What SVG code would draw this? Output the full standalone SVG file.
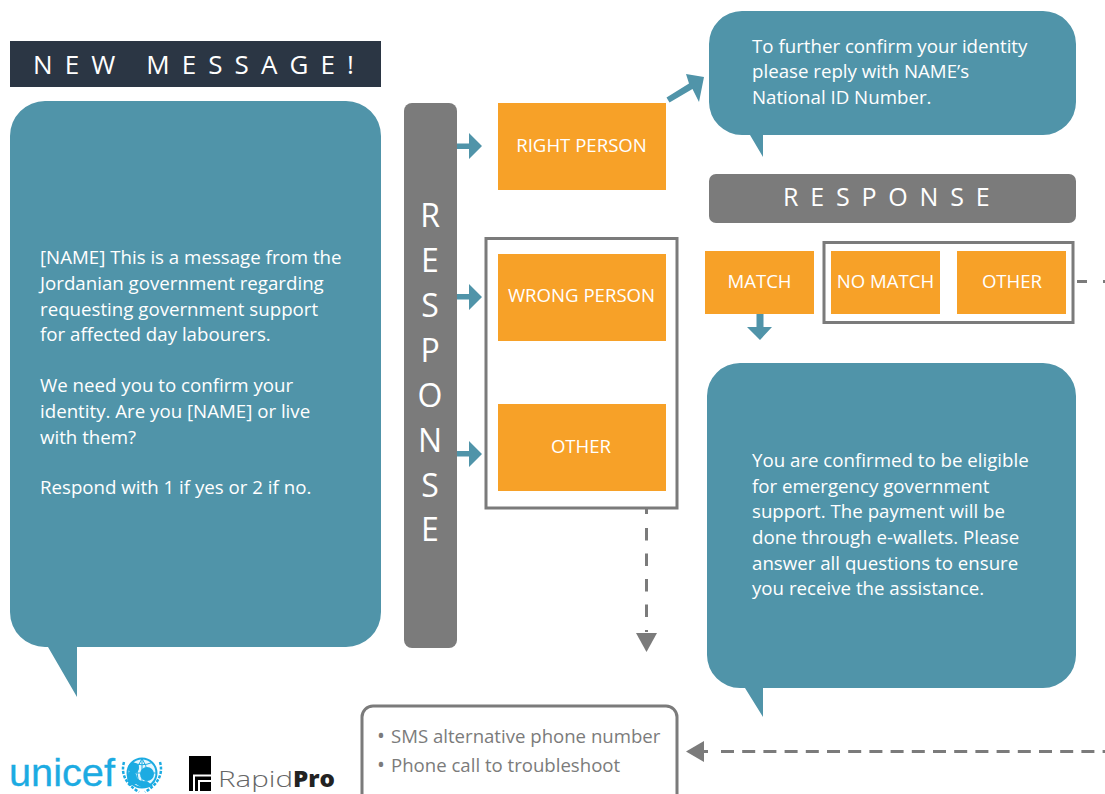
<svg xmlns="http://www.w3.org/2000/svg" width="1105" height="794" viewBox="0 0 1105 794">
<style>
text{font-family:"Open Sans","Noto Sans","Liberation Sans",sans-serif}
.b{fill:#5094a9}
.o{fill:#f7a128}
.t{fill:#fff;font-size:18.7px}
.c{fill:#fff;font-size:18.6px;text-anchor:middle}
.r{fill:#fff;font-size:32px;text-anchor:middle}
.box{fill:none;stroke:#7b7b7b;stroke-width:3}
.d{fill:none;stroke:#7b7b7b;stroke-width:3}
.ga{fill:#7b7b7b}
.ba{fill:#5094a9}
.s{fill:#7b7b7b;font-size:18.6px}
.u{fill:none;stroke:#1cabe2}
</style>
<g id="header"><rect x="10" y="41" width="371" height="46" fill="#2b3644"/><text x="33" y="74" fill="#fff" font-size="26" letter-spacing="12.1">NEW MESSAGE!</text></g>
<g id="bubble-message"><path class="b" d="M45 101H346a35 35 0 0 1 35 35V612a35 35 0 0 1-35 35H77V697L48 647H45a35 35 0 0 1-35-35V136a35 35 0 0 1 35-35Z"/>
<text class="t" x="40" y="264">[NAME] This is a message from the</text>
<text class="t" x="40" y="290">Jordanian government regarding</text>
<text class="t" x="40" y="316">requesting government support</text>
<text class="t" x="40" y="341">for affected day labourers.</text>
<text class="t" x="40" y="392">We need you to confirm your</text>
<text class="t" x="40" y="418">identity. Are you [NAME] or live</text>
<text class="t" x="40" y="444">with them?</text>
<text class="t" x="40" y="494">Respond with 1 if yes or 2 if no.</text></g>
<g id="response-bar"><rect x="404" y="103" width="53" height="545" rx="8" fill="#7b7b7b"/>
<text class="r" x="430" y="227">R</text><text class="r" x="430" y="272">E</text><text class="r" x="430" y="317">S</text><text class="r" x="430" y="362">P</text><text class="r" x="430" y="407">O</text><text class="r" x="430" y="452">N</text><text class="r" x="430" y="497">S</text><text class="r" x="430" y="541">E</text></g>
<g id="right-person"><rect class="o" x="498" y="103" width="168" height="87"/><text class="c" x="581.5" y="152">RIGHT PERSON</text></g>
<g id="wrong-person"><rect class="o" x="498" y="254" width="168" height="87"/><text class="c" x="581.5" y="302">WRONG PERSON</text></g>
<g id="other-1"><rect class="o" x="498" y="404" width="168" height="87"/><text class="c" x="581" y="453">OTHER</text></g>
<g id="group-box-1"><rect class="box" x="486" y="238.500" width="191" height="269.500"/></g>
<g id="bubble-confirm"><path class="b" d="M742 11H1043a33 33 0 0 1 33 33V102a33 33 0 0 1-33 33H763V157L750 135H742a33 33 0 0 1-33-33V44a33 33 0 0 1 33-33Z"/>
<text class="t" x="752" y="53">To further confirm your identity</text>
<text class="t" x="752" y="78">please reply with NAME’s</text>
<text class="t" x="752" y="104">National ID Number.</text></g>
<g id="response-2"><rect x="709" y="174" width="367" height="49" rx="7" fill="#7b7b7b"/><text x="783" y="206" fill="#fff" font-size="25" letter-spacing="11.8">RESPONSE</text></g>
<g id="match"><rect class="o" x="705" y="251" width="109" height="63"/><text class="c" x="759.500" y="288">MATCH</text></g>
<g id="no-match"><rect class="o" x="831" y="251" width="109" height="63"/><text class="c" x="885.500" y="288">NO MATCH</text></g>
<g id="other-2"><rect class="o" x="957" y="251" width="109" height="63"/><text class="c" x="1012" y="288">OTHER</text></g>
<g id="group-box-2"><rect class="box" x="824" y="242.500" width="249" height="80"/></g>
<g id="bubble-eligible"><path class="b" d="M740 363H1043a33 33 0 0 1 33 33V655a33 33 0 0 1-33 33H763V717L745 688H740a33 33 0 0 1-33-33V396a33 33 0 0 1 33-33Z"/>
<text class="t" x="752" y="467">You are confirmed to be eligible</text>
<text class="t" x="752" y="493">for emergency government</text>
<text class="t" x="752" y="518">support. The payment will be</text>
<text class="t" x="752" y="544">done through e-wallets. Please</text>
<text class="t" x="752" y="570">answer all questions to ensure</text>
<text class="t" x="752" y="595">you receive the assistance.</text></g>
<g id="troubleshoot"><path d="M362 794V717a11 11 0 0 1 11-11H666a11 11 0 0 1 11 11V794" fill="#fff" stroke="#7b7b7b" stroke-width="3"/>
<text class="s" x="377" y="743" style="font-size:21px">•</text><text class="s" x="391" y="743">SMS alternative phone number</text>
<text class="s" x="377" y="772" style="font-size:21px">•</text><text class="s" x="391" y="772">Phone call to troubleshoot</text></g>
<g id="connectors">
<path class="ba" d="M457 143.500H469V133L482 146L469 159V149H457Z"/>
<path class="ba" d="M457 294H469V284L482 297L469 310V299.500H457Z"/>
<path class="ba" d="M457 451H469V441L482 454L469 467V456.500H457Z"/>
<path class="ba" d="M666.500 97.500L689 83.500L686 74L704 77L699 102L692.500 89L669.500 102.500Z"/>
<path class="ba" d="M756.500 314H763.500V327H772L760 340L747 327H756.500Z"/>
<path class="d" d="M646.500 509V514M646.500 528V632" stroke-dasharray="12.500 13"/>
<path class="ga" d="M636 633H657L646.500 652Z"/>
<path class="d" d="M1077 281.500H1087M1103 281.500H1105"/>
<path class="d" d="M704 751.500H708M721 751.500H1105" stroke-dasharray="13 8.200"/>
<path class="ga" d="M704 741V762L686 751.500Z"/>
</g>
<g id="unicef-logo"><text x="9" y="786" fill="#1cabe2" stroke="#1cabe2" stroke-width=".3" font-size="38" textLength="106" lengthAdjust="spacingAndGlyphs" style="font-family:'Liberation Sans',sans-serif">unicef</text>
<circle cx="142" cy="773" r="14.500" fill="#e6f6fd" stroke="#1cabe2" stroke-width="2"/>
<path class="u" stroke-width="1" d="M142 758.500V787.500M128 773H156M132 762.500Q142 767 152 762.500M142 758.500Q132 773 142 787.500M142 758.500Q152 773 142 787.500"/>
<circle cx="133.500" cy="768" r="5.500" fill="#1cabe2"/><circle cx="147" cy="774" r="7" fill="#1cabe2"/>
<path d="M129 772Q137 771 137 778Q141 782 147 781L153 786Q143 790 136 784L130 786Q125 778 129 772Z" fill="#1cabe2"/>
<path class="u" stroke-width="2.500" stroke-dasharray="3 1.500" d="M124 762Q119 780 139 792M160 762Q165 780 145 792"/></g>
<g id="rapidpro-logo"><rect x="189" y="756" width="22" height="35" fill="#000"/><path d="M194 791V775.500H211M199 791V781H211" fill="none" stroke="#fff" stroke-width="2"/>
<text x="218" y="787" font-size="22" fill="#666" textLength="75" lengthAdjust="spacingAndGlyphs" style="font-family:'Open Sans',sans-serif;font-weight:300">Rapid</text><text x="293" y="787" font-size="22" fill="#222" textLength="42" lengthAdjust="spacingAndGlyphs" style="font-family:'Open Sans',sans-serif;font-weight:800">Pro</text></g>
</svg>
